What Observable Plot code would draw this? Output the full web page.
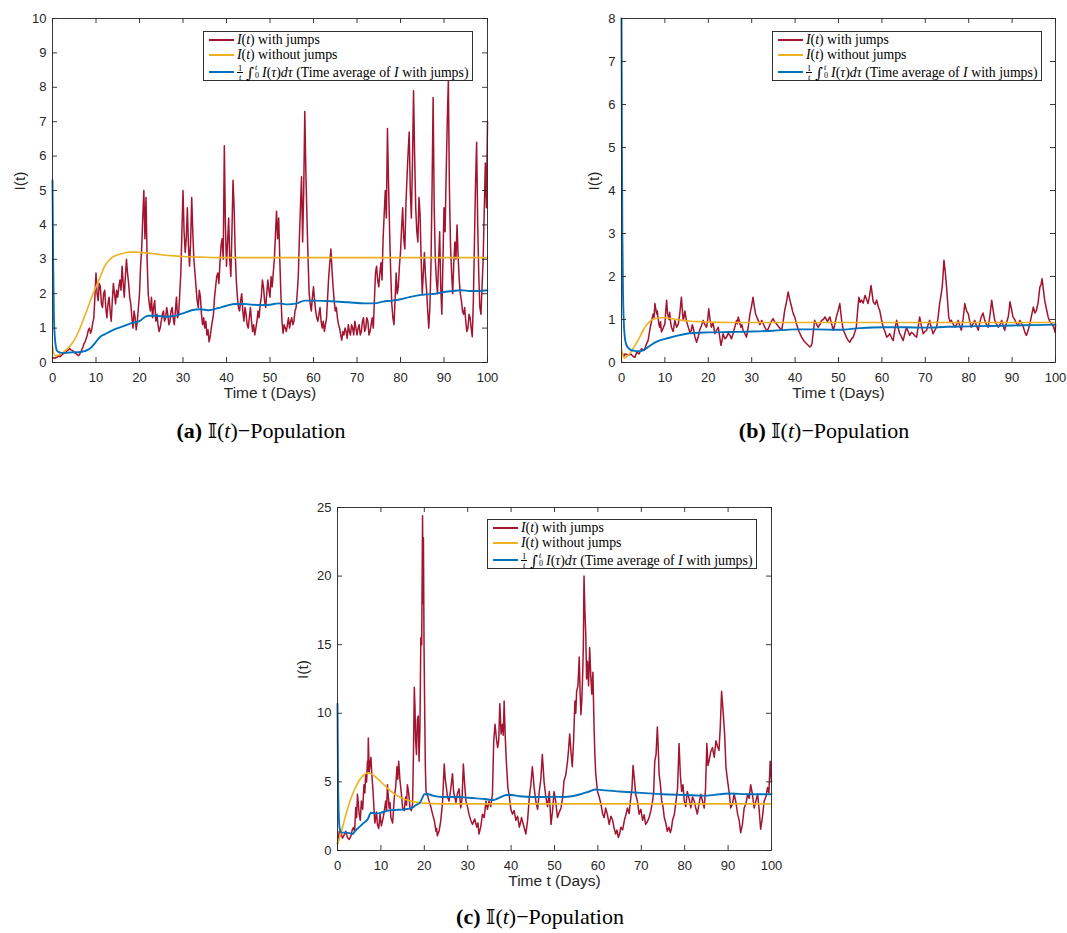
<!DOCTYPE html>
<html>
<head>
<meta charset="utf-8">
<script src="https://cdn.jsdelivr.net/npm/d3@7"></script>
<script src="https://cdn.jsdelivr.net/npm/@observablehq/plot@0.6"></script>
<style>
  html, body { margin: 0; padding: 0; background: #fff; }
  #root { position: relative; width: 1067px; height: 933px; background: #fff; overflow: hidden; }
  .pan { position: absolute; }
  .legend { position: absolute; width: 270px; height: 50px; box-sizing: border-box; border: 1px solid #303030; background: #fff;
            font-family: "Liberation Serif", "DejaVu Serif", serif; font-size: 13.8px; color: #000; }
  .row { position: absolute; left: 0; right: 0; height: 0; }
  .sw { position: absolute; left: 5px; width: 25px; }
  .tx { position: absolute; left: 33px; top: -8px; white-space: nowrap; line-height: 16px; }
  .frac { display: inline-flex; flex-direction: column; align-items: center; font-size: 8.5px; line-height: 8px; vertical-align: middle; margin-right: 3px; position: relative; top: -1px; }
  .frac .n { border-bottom: 0.7px solid #000; padding: 0 1px; }
  .int { font-family: "DejaVu Serif", serif; font-size: 15px; position: relative; top: 1px; }
  .lims { display: inline-flex; flex-direction: column; font-size: 8px; line-height: 8px; vertical-align: middle; margin-right: 3px; margin-left: 1px; position: relative; top: -1px; }
  .cap { position: absolute; transform: translateX(-50%); white-space: nowrap; font-family: "Liberation Serif", "DejaVu Serif", serif; font-size: 22px; color: #000; }
  .bb { font-family: "DejaVu Serif", "DejaVu Sans", serif; font-size: 20px; }
</style>
</head>
<body>
<div id="root"></div>
<script>
// ---------- data ----------
const xTicks = [0, 10, 20, 30, 40, 50, 60, 70, 80, 90, 100];
const yTicksA = [0, 1, 2, 3, 4, 5, 6, 7, 8, 9, 10];
const yTicksB = [0, 1, 2, 3, 4, 5, 6, 7, 8];
const yTicksC = [0, 5, 10, 15, 20, 25];

// (a) I(t) with jumps, read every 0.25 day from t = 0 to 100 (one row = 5 days)
const redA = [
  0.15,0.13,0.12,0.14,0.15,0.18,0.2,0.17,0.2,0.24,0.25,0.27,0.3,0.33,0.35,0.38,0.4,0.37,0.35,0.33,
  0.3,0.27,0.25,0.22,0.2,0.24,0.3,0.38,0.45,0.55,0.6,0.7,0.8,0.95,1.0,0.85,0.95,1.15,1.3,1.9,
  2.6,2.0,1.8,2.3,2.2,1.7,1.6,2.0,2.1,1.6,1.3,1.7,1.9,1.5,1.2,1.8,2.3,2.0,1.7,2.1,
  1.9,2.2,2.4,2.1,2.8,2.3,1.9,2.5,3.0,2.6,2.3,1.9,1.7,1.3,1.0,1.5,1.3,0.95,1.2,1.6,
  2.0,2.8,3.3,4.2,5.0,3.6,4.8,3.0,2.0,1.7,1.5,1.9,1.3,1.6,1.8,1.2,1.4,1.1,0.9,1.0,
  1.2,1.4,1.5,1.2,1.3,1.6,1.4,1.1,1.2,1.5,1.6,1.3,1.1,1.5,1.9,1.3,1.4,2.0,2.6,3.8,
  5.0,3.8,3.2,3.6,4.5,3.4,2.8,3.5,4.8,3.8,3.0,2.6,2.2,1.8,1.6,2.1,1.9,1.4,1.1,1.3,
  1.0,1.2,0.8,0.95,0.6,0.75,1.0,1.2,1.4,1.9,2.2,2.5,2.6,2.3,2.9,3.4,3.6,3.0,6.3,4.0,
  2.8,3.5,4.2,3.0,2.5,3.8,5.3,4.5,3.2,2.4,1.9,1.6,1.5,1.8,2.0,1.5,1.2,1.6,1.4,1.1,
  1.0,1.3,1.6,1.2,0.9,1.1,0.8,1.0,1.2,1.5,1.3,1.7,1.9,2.4,2.2,1.8,1.6,2.0,2.4,2.1,
  1.9,2.5,2.2,2.6,3.0,3.7,4.4,3.6,4.2,3.0,2.0,1.2,0.85,1.1,1.0,0.9,1.1,1.3,1.0,1.2,
  1.3,1.1,1.2,1.5,1.6,2.0,2.5,3.6,4.5,5.4,3.5,5.0,7.3,5.5,4.2,3.0,2.0,1.7,1.5,1.9,
  2.2,1.8,1.5,1.3,1.2,1.4,1.6,1.2,1.0,1.2,0.9,1.1,1.3,1.9,2.5,2.9,3.3,2.7,2.2,1.8,
  1.5,1.6,1.3,1.1,1.0,0.8,0.65,0.9,0.8,1.0,0.9,0.7,1.1,0.9,0.8,1.1,1.0,0.8,1.2,1.0,
  0.8,1.0,1.1,0.8,0.9,1.2,1.3,0.9,1.0,1.3,1.2,0.8,0.9,1.1,1.3,1.0,1.8,2.6,2.8,2.4,
  2.2,2.6,2.9,2.4,3.6,4.3,5.0,4.2,6.8,5.2,3.8,2.6,1.7,1.3,1.1,1.8,2.6,2.0,2.2,2.8,
  3.2,3.9,4.5,3.6,3.3,4.6,5.4,6.1,6.7,5.0,4.2,5.8,7.9,6.0,4.5,3.8,3.5,4.8,4.3,3.0,
  2.0,2.6,3.2,2.5,2.1,1.5,1.0,1.6,2.8,5.0,7.7,4.5,3.0,2.4,2.0,2.9,3.8,2.2,1.4,2.9,
  4.5,3.8,5.5,7.0,8.2,5.0,3.4,2.6,2.0,2.9,3.5,3.0,4.0,3.1,2.4,2.0,1.8,1.5,1.4,1.6,
  1.2,0.9,1.0,1.4,1.3,1.0,0.75,1.8,3.5,5.2,6.4,4.0,2.5,1.6,1.4,2.2,3.0,4.4,5.8,4.5,
  7.0
];
const yellowAt = [0,0.5,1,2,3,4,5,6,7,8,9,10,11,12,13,14,15,16,17,18,19,20,22,24,26,28,30,35,40,50,60,70,80,90,100];
const yellowAv = [0.5,0.2,0.2,0.25,0.35,0.48,0.65,0.9,1.22,1.55,1.9,2.2,2.5,2.8,2.97,3.08,3.13,3.17,3.2,3.21,3.21,3.2,3.18,3.15,3.12,3.1,3.08,3.06,3.05,3.05,3.05,3.05,3.05,3.05,3.05];
const blueAt = [0,0.15,0.3,0.5,0.8,1,1.5,2,3,4,5,6,7,8,9,10,11,12,14,16,18,20,21,22,24,26,28,30,32,34,36,38,40,42,44,46,48,50,52,54,56,58,60,64,68,72,74,76,78,80,82,84,86,88,90,92,94,96,98,100];
const blueAv = [5.3,3.0,1.5,0.8,0.45,0.35,0.3,0.28,0.28,0.29,0.3,0.3,0.32,0.36,0.45,0.6,0.75,0.82,0.95,1.04,1.14,1.2,1.3,1.36,1.36,1.33,1.35,1.43,1.52,1.55,1.52,1.58,1.65,1.7,1.7,1.68,1.67,1.68,1.72,1.69,1.71,1.8,1.8,1.78,1.75,1.72,1.72,1.77,1.8,1.84,1.9,1.95,1.98,2.0,2.05,2.08,2.1,2.08,2.08,2.1];

// (b) readings at redBt, plus one reading between each pair of them (redBmid)
const redBt = [0,0.4,0.8,1.5,2.7,3.5,4.6,5.8,6.5,7.3,
  7.7,8.1,8.4,8.8,9.2,10,10.4,10.8,11.1,11.5,
  12.3,13.1,13.8,14.2,14.6,15.4,16.1,16.5,17.3,18,
  18.8,19.6,20.1,20.7,21.5,22.3,22.9,23.4,24.2,25,
  25.7,26.5,26.9,27.5,28,28.8,29.6,30.3,30.9,31.5,
  32.3,33,33.8,34.9,35.7,36.9,37.6,38.4,39.2,39.6,
  40.3,41.5,42.6,43.4,43.9,44.5,45.3,46.1,46.9,48,
  48.8,49.5,50.3,51.1,51.8,52.6,53.4,54.1,54.7,55.3,
  56.1,56.8,57.5,58,58.8,59.5,60.3,61.1,61.8,62.6,
  63.4,64.1,64.9,65.7,66.4,67.2,68,68.7,69.5,70.3,
  71,71.8,72.6,73.3,73.9,74.3,74.9,75.4,76,76.8,
  77.6,78.3,79.1,79.9,80.6,81.4,82.2,82.9,83.7,84.5,
  85.3,86,86.8,87.6,88.3,89.1,89.5,90.2,91,91.8,
  92.6,93.3,94.1,94.9,95.6,96.4,96.9,97.5,98.3,99.1,
  99.8,100];
const redBv = [0.22,0.18,0.2,0.16,0.14,0.24,0.32,0.44,0.75,1.13,
  1.37,1.13,1.06,0.82,0.71,0.9,1.45,1.06,1.17,0.82,
  0.98,0.9,1.52,0.98,1.2,0.82,0.75,0.82,0.47,0.75,
  0.98,0.82,1.25,0.82,0.67,0.82,0.4,0.67,0.59,0.63,
  0.67,0.98,1.06,0.82,0.75,0.59,1.13,1.52,1.13,0.98,
  0.98,0.82,0.78,1.02,0.9,0.75,1.21,1.64,1.29,1.13,
  0.9,0.59,0.44,0.36,0.44,0.98,0.82,0.98,1.06,1.06,
  0.75,1.06,1.37,0.75,0.59,0.47,0.59,0.82,1.52,1.45,
  1.56,1.37,1.79,1.41,1.45,1.21,0.82,0.59,0.67,0.51,
  0.98,0.67,0.51,0.82,0.63,0.67,0.59,1.06,0.67,0.75,
  0.98,0.67,0.82,1.37,1.76,2.38,1.76,1.06,0.98,0.82,
  0.98,0.75,1.37,1.13,0.82,0.98,0.75,1.06,0.98,0.82,
  1.45,0.98,0.82,0.98,0.75,1.06,1.41,1.06,0.9,0.98,
  0.82,0.63,0.9,1.29,1.21,1.76,1.95,1.45,1.06,0.9,
  0.75,0.85];
const redBmid = [0.2,0.15,0.19,0.2,0.12,0.2,0.28,0.52,0.95,1.05,
  1.25,1.2,0.9,0.95,0.8,1.2,1.15,1.0,0.95,0.72,
  0.82,1.15,1.25,1.05,0.95,0.7,0.88,0.6,0.58,0.85,
  0.88,0.98,1.0,0.92,0.75,0.62,0.5,0.55,0.68,0.55,
  0.82,0.9,0.95,0.88,0.68,0.82,1.3,1.3,1.05,0.88,
  0.9,0.75,0.92,0.95,0.82,0.95,1.4,1.45,1.2,1.05,
  0.72,0.5,0.4,0.38,0.72,0.9,0.88,1.0,0.95,0.9,
  0.88,1.2,1.0,0.68,0.52,0.55,0.7,1.2,1.4,1.38,
  1.48,1.55,1.6,1.35,1.3,1.0,0.72,0.62,0.58,0.78,
  0.8,0.6,0.68,0.72,0.7,0.62,0.82,0.85,0.72,0.88,
  0.8,0.75,1.05,1.55,2.05,2.1,1.4,0.95,0.9,0.88,
  0.85,1.0,1.2,0.95,0.9,0.85,0.92,1.15,0.88,1.1,
  1.2,0.9,0.88,0.85,0.92,1.2,1.25,1.0,0.88,0.9,
  0.7,0.75,1.1,1.15,1.4,1.8,1.7,1.25,0.95,0.85,
  0.7];
const yellowBt = [0,0.3,0.6,1,2,3,4,5,6,7,8,9,10,12,14,16,18,20,25,30,100];
const yellowBv = [0.3,0.18,0.1,0.12,0.22,0.38,0.55,0.75,0.9,0.99,1.03,1.04,1.04,1.01,0.98,0.96,0.95,0.94,0.93,0.93,0.93];
const blueBt = [0,0.1,0.2,0.35,0.5,0.75,1,1.5,2,3,4,5,6,7,8,9,10,12,15,20,25,30,35,40,45,50,55,60,65,70,75,80,85,90,95,100];
const blueBv = [8,5,3,1.6,1.0,0.6,0.45,0.35,0.3,0.27,0.26,0.28,0.35,0.42,0.48,0.52,0.55,0.6,0.67,0.7,0.71,0.72,0.74,0.77,0.77,0.76,0.8,0.82,0.82,0.81,0.83,0.84,0.85,0.86,0.87,0.88];

// (c) readings at redCt, plus one reading between each pair of them (redCmid)
const redCt = [0,0.8,1.5,2.3,3.1,3.7,4.2,4.6,5,5.5,
  6.1,6.5,6.9,7.1,7.5,7.9,8.4,8.8,9.2,9.8,
  10.4,11.1,11.5,11.9,12.3,13.1,13.7,14.1,14.4,15,
  15.7,16.1,16.7,17.3,17.7,18,18.4,18.8,19.2,19.6,
  19.8,20.1,20.4,21.1,21.9,22.7,23,23.8,24.6,25,
  25.7,26.5,27,27.6,28.4,29,29.6,30.3,31.1,32.1,
  32.6,33.4,34.2,34.9,35.7,36.3,36.9,37.4,38,38.4,
  38.9,39.6,40.3,41.1,41.9,42.4,43.4,44.2,44.9,45.7,
  46.5,47.2,48,48.8,49.2,49.9,50.7,51.5,52.2,53,
  53.5,54.1,54.7,55.1,55.7,56.1,56.5,56.8,57.2,57.6,
  58.1,58.6,59.1,59.5,60.3,61.1,61.8,62.6,63.4,64.1,
  64.7,65.3,66.1,66.8,67.6,68.1,68.7,69.5,70.3,71,
  71.8,72.6,73.1,73.7,74.1,74.7,75.3,76,76.7,77.2,
  78,78.7,79.3,79.9,80.6,81.4,82.2,82.9,83.7,84.5,
  85.1,85.6,86.4,87.2,87.9,88.5,88.9,89.5,90,90.6,
  91.4,92.2,92.9,93.7,94.5,95.2,96,96.8,97.5,98.3,
  99.1,99.7,100];
const redCv = [0.5,1.3,1.1,0.95,1.07,1.68,3.13,4.1,2.65,3.6,
  4.8,5.6,6.5,8.2,6.3,5.6,3.1,2.4,1.9,2.65,
  2.2,3.6,4.8,3.1,2.4,3.9,6.1,6.5,5.1,3.1,
  3.9,4.8,3.1,3.4,11.9,8.0,9.5,6.5,15.5,24.4,
  22.8,9.9,4.3,3.6,2.65,1.4,1.07,2.2,6.3,4.8,
  3.6,5.6,3.9,4.1,3.1,6.3,3.6,2.65,1.9,1.7,
  1.2,2.65,3.6,3.6,4.1,9.2,7.5,10.7,9.2,10.9,
  6.5,3.9,2.65,2.2,1.7,2.4,1.2,3.9,6.1,3.6,
  4.3,7.0,3.9,4.3,1.9,4.3,2.4,3.1,5.1,6.5,
  8.5,6.1,10.9,11.6,14.1,9.9,12.9,20.0,15.8,13.8,
  14.8,11.4,9.2,5.6,3.9,2.65,3.1,1.9,2.2,1.2,
  0.95,1.7,2.2,3.1,3.9,6.2,4.1,2.65,2.2,1.9,
  2.4,3.6,6.5,9.0,5.6,3.6,2.4,1.4,1.3,2.2,
  3.6,7.8,4.3,3.6,4.3,3.1,3.6,2.65,4.1,3.1,
  7.8,6.5,7.5,8.0,7.3,11.6,9.9,6.1,4.8,3.1,
  4.1,2.65,1.3,3.1,4.1,4.8,3.1,4.1,1.55,3.6,
  4.6,6.5,5.0];
const redCmid = [1.4,0.9,1.4,0.8,1.5,1.4,2.4,3.4,2.2,3.0,
  4.2,5.0,5.8,5.7,6.8,4.5,2.0,2.8,1.6,1.8,
  2.8,2.9,4.0,3.5,2.0,4.6,5.2,5.8,4.2,2.9,
  3.3,4.2,2.9,7.0,10.5,7.0,9.8,9.0,15.0,18.0,
  14.5,6.0,4.0,3.2,2.2,1.6,1.4,3.5,5.3,3.9,
  4.5,4.3,3.5,4.5,3.8,4.8,3.2,2.2,2.3,2.0,
  1.7,2.4,3.0,3.2,8.0,8.2,8.0,8.5,8.4,8.3,
  4.6,3.0,2.9,2.5,2.0,1.8,2.2,4.8,4.6,3.0,
  5.2,5.0,3.2,3.0,2.9,3.5,2.8,3.8,5.5,7.4,
  7.2,8.0,10.0,12.0,11.5,11.0,15.0,17.5,12.5,12.0,
  12.8,13.0,7.0,4.3,3.4,2.4,2.6,2.5,1.6,1.5,
  1.2,1.5,2.6,2.7,4.5,5.2,3.6,3.0,2.6,2.1,
  2.9,4.3,7.0,7.5,4.8,3.2,2.0,1.7,1.6,2.6,
  4.5,5.5,4.8,3.2,3.8,3.9,3.1,3.4,3.6,4.5,
  6.2,7.2,6.8,7.6,9.0,10.8,8.5,5.4,4.1,3.4,
  3.5,2.2,1.9,3.4,3.8,4.1,3.6,3.0,2.4,3.9,
  4.2,5.8];
const yellowCt = [0,1,2,3,4,5,6,7,8,9,10,11,12,13,14,15,16,17,18,19,20,22,25,30,100];
const yellowCv = [0.45,1.5,2.7,3.7,4.5,5.1,5.5,5.65,5.55,5.3,5.0,4.7,4.4,4.15,3.95,3.8,3.68,3.6,3.53,3.48,3.45,3.42,3.4,3.4,3.4];
const blueCt = [0,0.1,0.25,0.5,1,2,3,3.5,4,5,6,7,7.7,9,10,11.5,13,15.4,17.3,18,19,19.5,20,21,22,24,26,28,30,32,34,36,37,38,39,40,42,45,48,50,52,54,56,58,59.5,61,65,70,75,80,85,88,90,95,100];
const blueCv = [10.7,6,3,1.6,1.3,1.3,1.25,1.2,1.4,1.7,2.0,2.3,2.75,2.7,2.75,2.9,2.95,3.0,3.13,3.3,3.5,3.8,4.1,4.1,4.0,3.9,3.9,3.9,3.85,3.8,3.75,3.68,3.8,3.95,4.05,4.05,3.95,3.9,3.9,3.92,3.9,3.95,4.1,4.3,4.45,4.4,4.3,4.2,4.1,4.05,4.0,4.1,4.15,4.1,4.1];

const xLabel = "Time t (Days)";
const yLabel = "I(t)";
const RED = "#A2142F", YELLOW = "#EDB120", BLUE = "#0072BD", AX = "#262626";

// ---------- build ----------
const pairs = (ts, vs) => ts.map((t, i) => ({t, v: vs[i]}));
function withMids(ts, vs, mids) {
  const out = [];
  ts.forEach((t, i) => {
    out.push({t, v: vs[i]});
    if (i < ts.length - 1 && mids[i] != null) out.push({t: (t + ts[i + 1]) / 2, v: mids[i]});
  });
  return out;
}
const redAt = d3.range(0, 100.0001, 0.25);

function panel(o) {
  const pw = o.width - o.ml - o.mr, ph = o.height - o.mt - o.mb;
  return Plot.plot({
    width: o.width, height: o.height,
    marginLeft: o.ml, marginRight: o.mr, marginTop: o.mt, marginBottom: o.mb,
    style: {fontFamily: "'Liberation Sans', Arial, sans-serif", fontSize: "13px", color: AX, background: "transparent", overflow: "visible"},
    x: {domain: [0, 100], ticks: xTicks, tickSize: 0, tickPadding: 10, label: null},
    y: {domain: o.yDomain, ticks: o.yTicks, tickSize: 0, tickPadding: 6, label: null},
    marks: [
      Plot.line(o.red, {x: "t", y: "v", stroke: RED, strokeWidth: 1.5}),
      Plot.line(o.yellow, {x: "t", y: "v", stroke: YELLOW, strokeWidth: 1.6, curve: "monotone-x"}),
      Plot.line(o.blue, {x: "t", y: "v", stroke: BLUE, strokeWidth: 1.9, curve: "monotone-x"}),
      Plot.frame({stroke: AX, strokeWidth: 0.9}),
      Plot.tickX(xTicks, {x: d => d, insetTop: ph - 5, stroke: AX, strokeWidth: 0.9}),
      Plot.tickX(xTicks, {x: d => d, insetBottom: ph - 5, stroke: AX, strokeWidth: 0.9}),
      Plot.tickY(o.yTicks, {y: d => d, insetRight: pw - 5, stroke: AX, strokeWidth: 0.9}),
      Plot.tickY(o.yTicks, {y: d => d, insetLeft: pw - 5, stroke: AX, strokeWidth: 0.9}),
      Plot.text([xLabel], {frameAnchor: "bottom", dy: 35, text: d => d, fontSize: 15.5, fill: AX}),
      Plot.text([yLabel], {frameAnchor: "left", dx: o.ylx, rotate: -90, text: d => d, fontSize: 15.5, fill: AX})
    ]
  });
}

const root = document.getElementById("root");
function place(el, left, top) {
  el.classList.add("pan");
  el.style.left = left + "px"; el.style.top = top + "px";
  root.appendChild(el);
}

place(panel({width: 500, height: 412, ml: 52, mr: 13, mt: 18, mb: 50, yDomain: [0, 10], yTicks: yTicksA, ylx: -32,
  red: pairs(redAt, redA), yellow: pairs(yellowAt, yellowAv), blue: pairs(blueAt, blueAv)}), 0, 0);
place(panel({width: 507, height: 412, ml: 61, mr: 12, mt: 18, mb: 50, yDomain: [0, 8], yTicks: yTicksB, ylx: -27,
  red: withMids(redBt, redBv, redBmid), yellow: pairs(yellowBt, yellowBv), blue: pairs(blueBt, blueBv)}), 560, 0);
place(panel({width: 500, height: 410, ml: 57, mr: 9, mt: 17, mb: 50, yDomain: [0, 25], yTicks: yTicksC, ylx: -34,
  red: withMids(redCt, redCv, redCmid), yellow: pairs(yellowCt, yellowCv), blue: pairs(blueCt, blueCv)}), 280, 490);

// legends
const legendItems = [
  {color: RED, html: '<i>I</i>(<i>t</i>) with jumps', y: 9},
  {color: YELLOW, html: '<i>I</i>(<i>t</i>) without jumps', y: 23.5},
  {color: BLUE, html: '<span class="frac"><span class="n">1</span><span><i>t</i></span></span><span class="int">∫</span><span class="lims"><span><i>t</i></span><span>0</span></span><i>I</i>(<i>τ</i>)<i>dτ</i> (Time average of <i>I</i> with jumps)', y: 40.5}
];
function legend(left, top) {
  const box = document.createElement("div");
  box.className = "legend";
  box.style.left = left + "px"; box.style.top = top + "px";
  for (const it of legendItems) {
    const r = document.createElement("div");
    r.className = "row"; r.style.top = (it.y - 1) + "px";
    r.innerHTML = `<div class="sw" style="background:${it.color};height:2px;top:-1px"></div><div class="tx">${it.html}</div>`;
    box.appendChild(r);
  }
  root.appendChild(box);
}
legend(203, 31);
legend(772, 31);
legend(487, 519);

// captions
const captions = [
  {label: "(a)", x: 261, y: 418},
  {label: "(b)", x: 824, y: 418},
  {label: "(c)", x: 540, y: 904}
];
for (const c of captions) {
  const d = document.createElement("div");
  d.className = "cap";
  d.style.left = c.x + "px"; d.style.top = c.y + "px";
  d.innerHTML = `<b>${c.label}</b> <span class="bb">𝕀</span>(<i>t</i>)−Population`;
  root.appendChild(d);
}
</script>
</body>
</html>
